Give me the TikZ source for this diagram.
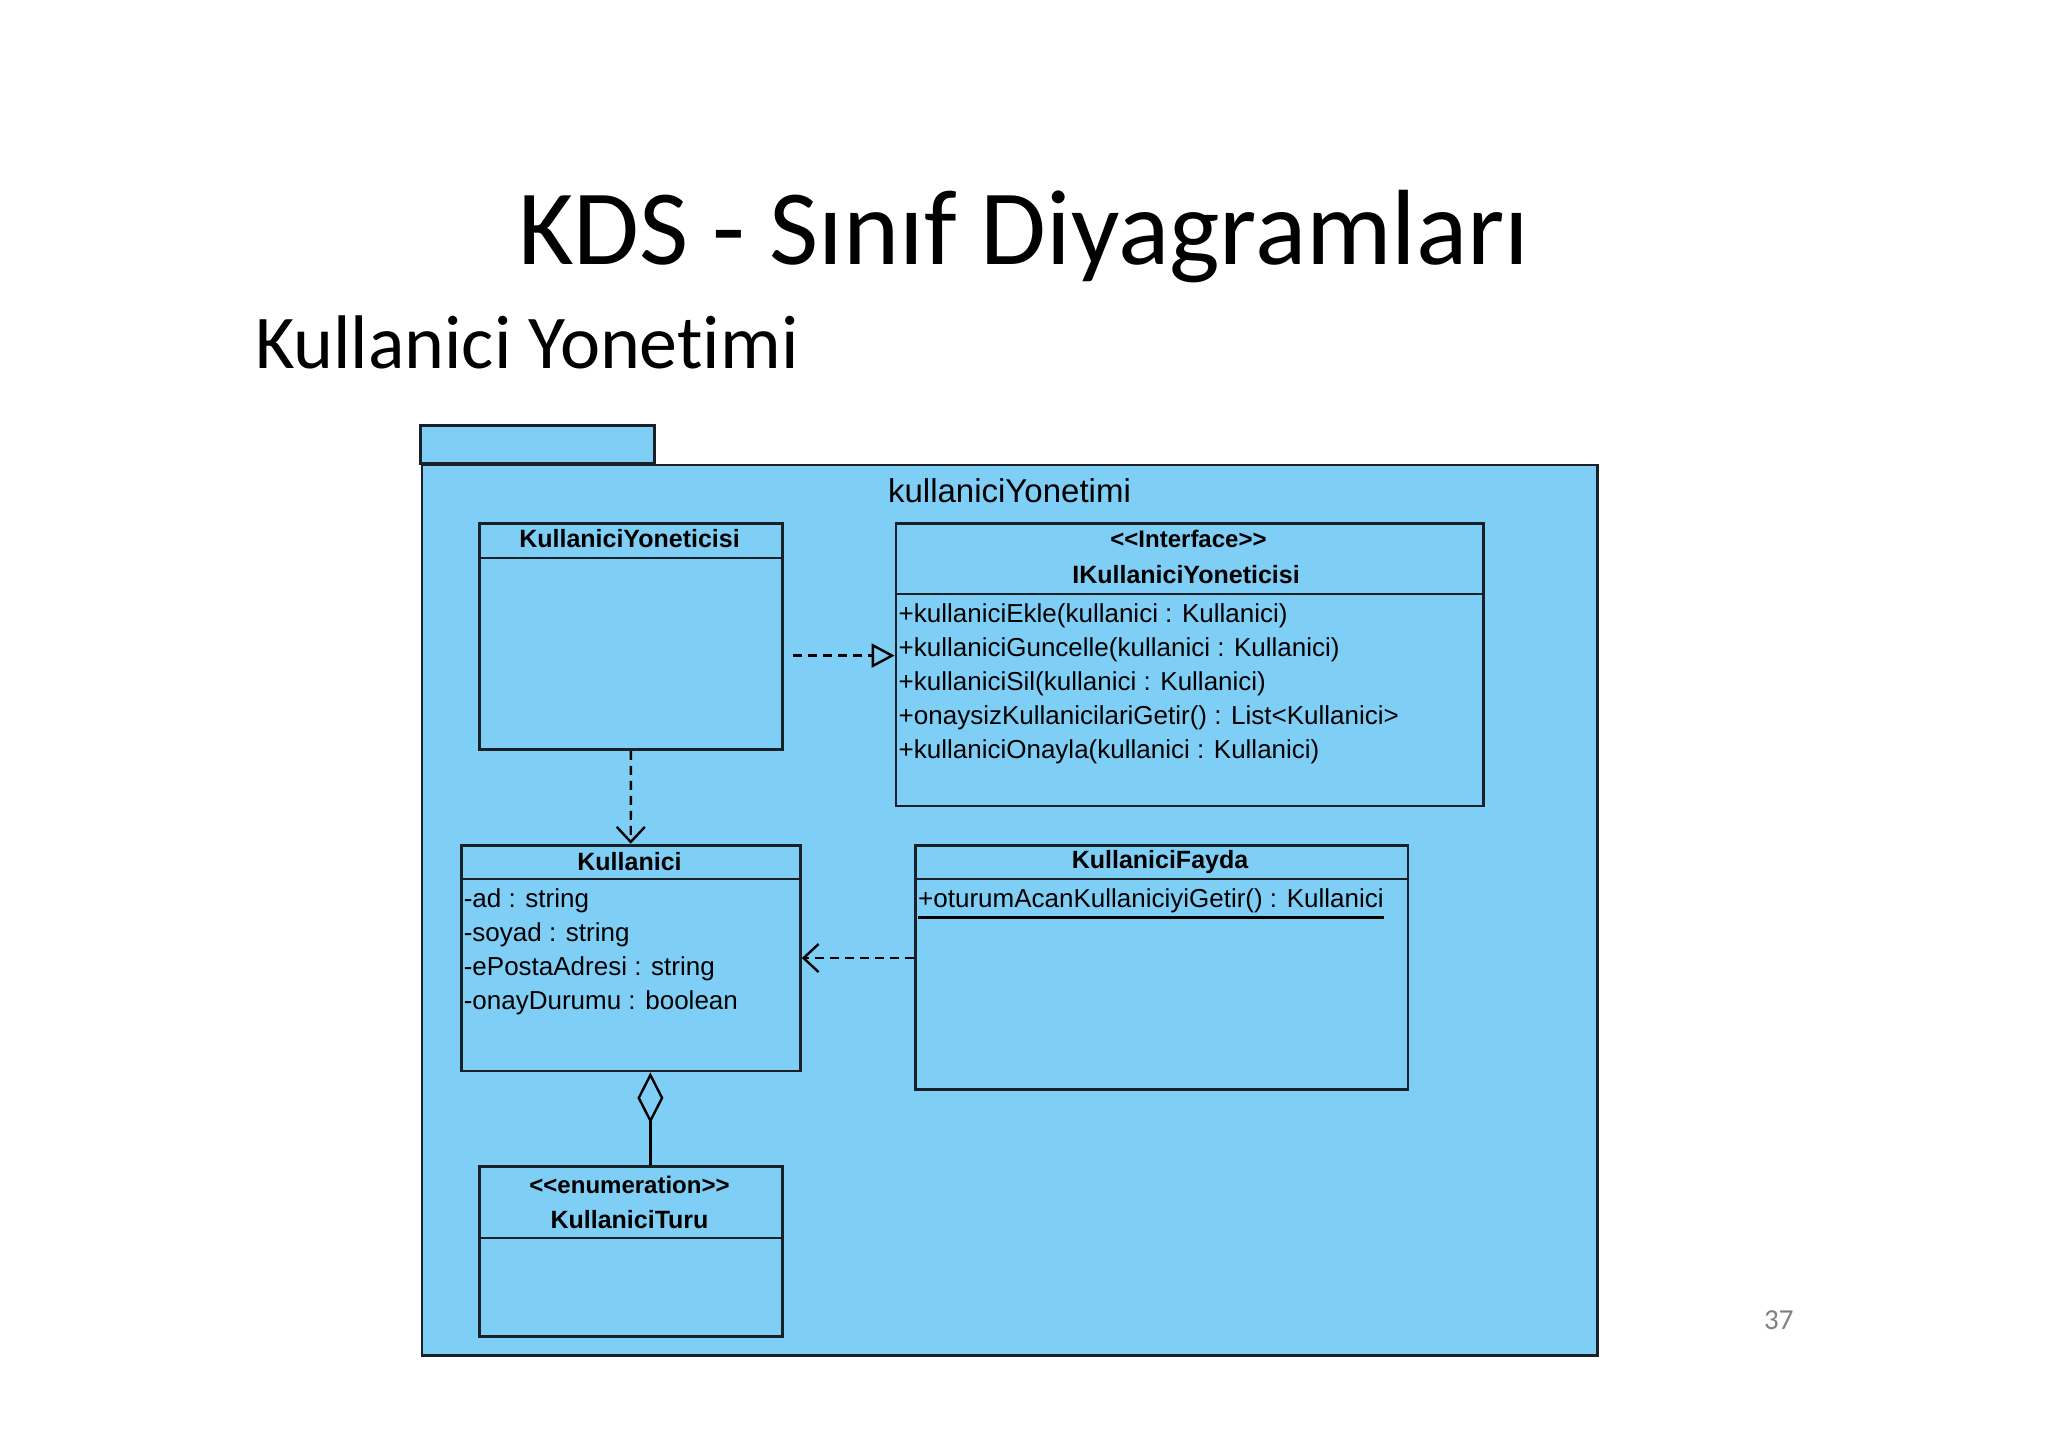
\documentclass[tikz,border=0pt]{standalone}
\usepackage{fontspec}
\setmainfont{Carlito}[Ligatures=CommonOff]
\newfontfamily\umlfont{Liberation Sans}
\usetikzlibrary{arrows.meta}
\definecolor{pkgblue}{RGB}{126,206,245}
\definecolor{linec}{RGB}{25,32,40}
\definecolor{pagegray}{RGB}{128,128,128}
\tikzset{
  pkgshape/.style={draw=linec, fill=pkgblue, line width=2.8pt},
  cls/.style={draw=linec, line width=2.8pt, inner sep=0pt, anchor=north west},
  sepline/.style={draw=linec, line width=2.8pt},
  clsname/.style={font=\umlfont\bfseries\fontsize{25}{25}\selectfont, inner sep=0pt, text=black},
  stereo/.style={font=\umlfont\bfseries\fontsize{24}{24}\selectfont, inner sep=0pt, text=black},
  member/.style={font=\umlfont\fontsize{26}{26}\selectfont, inner sep=0pt, anchor=west, text=black},
  depline/.style={draw=black, line width=2.4pt, dash pattern=on 9pt off 6pt},
  realtip/.style={-{Triangle[open, length=23pt, width=24pt, line width=2.4pt]}},
  deptip/.style={-{Straight Barb[length=15pt, width=28pt, line width=2.4pt]}},
  aggline/.style={draw=black, line width=2.4pt, {Diamond[open, length=51pt, width=26pt, line width=2.4pt]}-},
}
\begin{document}
\begin{tikzpicture}[x=1pt,y=-1pt]
\useasboundingbox (0,0) rectangle (2048,1447);
\fill[white] (0,0) rectangle (2048,1447);

% titles
\node[anchor=base west, inner sep=0pt, font=\fontsize{107}{107}\selectfont] (title) at (518,265) {KDS - Sınıf Diyagramları};
\node[anchor=base west, inner sep=0pt, font=\fontsize{76}{76}\selectfont] (subtitle) at (255,368) {Kullanici Yonetimi};
\node[anchor=base west, inner sep=0pt, text=pagegray, font=\fontsize{29}{29}\selectfont] (pageno) at (1764,1329) {37};

% package
\path[pkgshape] (420.5,425.8) rectangle (654.3,463.6);
\node[pkgshape, anchor=north west, inner sep=0pt, minimum width=1175.5pt, minimum height=890.4pt] (pkg) at (420.5,463.6) {};
\node[font=\umlfont\fontsize{33}{33}\selectfont, inner sep=0pt] (pkgname) at (1009.5,491) {kullaniciYonetimi};

% KullaniciYoneticisi
\node[cls, minimum width=303pt, minimum height=226pt] (ky) at (478,522) {};
\draw[sepline] ([yshift=-36pt]ky.north west) -- ([yshift=-36pt]ky.north east);
\node[clsname] (kyname) at (629.5,539) {KullaniciYoneticisi};

% IKullaniciYoneticisi
\node[cls, minimum width=587.4pt, minimum height=282.5pt] (ifc) at (894.6,522) {};
\draw[sepline] ([yshift=-72pt]ifc.north west) -- ([yshift=-72pt]ifc.north east);
\node[stereo] (ifcst) at (1188.5,539) {<<Interface>>};
\node[clsname] (ifcname) at (1186,574.6) {IKullaniciYoneticisi};
\node[member] (op1) at (898.5,616) {+kullaniciEkle(kullanici : Kullanici)};
\node[member] (op2) at (898.5,650) {+kullaniciGuncelle(kullanici : Kullanici)};
\node[member] (op3) at (898.5,684) {+kullaniciSil(kullanici : Kullanici)};
\node[member] (op4) at (898.5,718) {+onaysizKullanicilariGetir() : List<Kullanici>};
\node[member] (op5) at (898.5,752) {+kullaniciOnayla(kullanici : Kullanici)};

% Kullanici
\node[cls, minimum width=339.3pt, minimum height=225.9pt] (kul) at (459.7,843.7) {};
\draw[sepline] ([yshift=-35.3pt]kul.north west) -- ([yshift=-35.3pt]kul.north east);
\node[clsname] (kulname) at (629.5,862) {Kullanici};
\node[member] (at1) at (463.6,901) {-ad : string};
\node[member] (at2) at (463.6,935) {-soyad : string};
\node[member] (at3) at (463.6,969) {-ePostaAdresi : string};
\node[member] (at4) at (463.6,1003) {-onayDurumu : boolean};

% KullaniciFayda
\node[cls, minimum width=492.6pt, minimum height=244.3pt] (fay) at (914,843.7) {};
\draw[sepline] ([yshift=-35.3pt]fay.north west) -- ([yshift=-35.3pt]fay.north east);
\node[clsname] (fayname) at (1160,862) {KullaniciFayda};
\node[member] (fop) at (918,901) {+oturumAcanKullaniciyiGetir() : Kullanici};
\draw[draw=black, line width=2.4pt] ([yshift=-4pt]fop.south west) -- ([yshift=-4pt]fop.south east);

% KullaniciTuru
\node[cls, minimum width=303pt, minimum height=169.7pt] (enum) at (478,1165) {};
\draw[sepline] ([yshift=-73pt]enum.north west) -- ([yshift=-73pt]enum.north east);
\node[stereo] (enumst) at (629.5,1184.5) {<<enumeration>>};
\node[clsname] (enumname) at (629.5,1220) {KullaniciTuru};

% connectors
\coordinate (rstart) at (793,655.6);
\draw[depline, realtip] (rstart) -- (rstart -| ifc.west);
\draw[depline, deptip] (ky.south) -- (kul.north);
\draw[depline, deptip] (fay.west |- kul.east) -- (kul.east);
\coordinate (aggx) at (650.4,0);
\draw[aggline] (kul.south -| aggx) -- (enum.north -| aggx);
\end{tikzpicture}
\end{document}
